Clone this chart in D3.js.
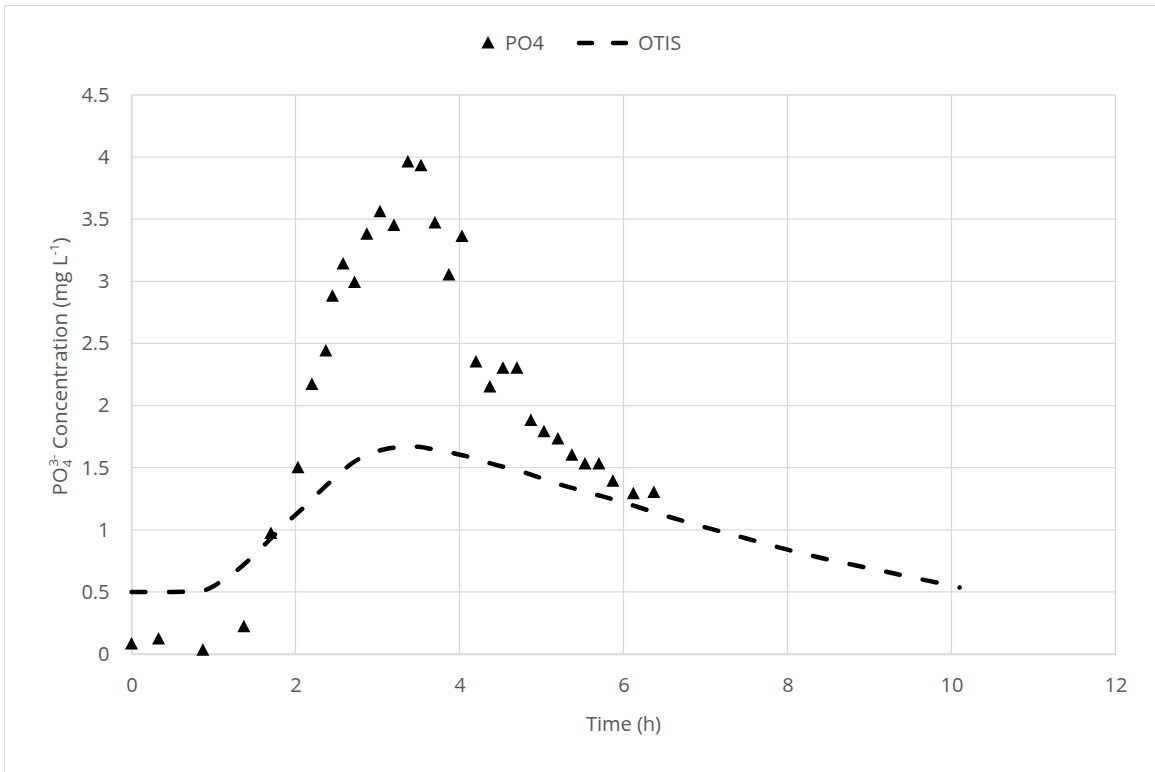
<!DOCTYPE html>
<html>
<head>
<meta charset="utf-8">
<script src="https://cdn.jsdelivr.net/npm/d3@7"></script>
<style>
  html, body { margin: 0; padding: 0; background: #fff; }
  svg { display: block; }
  text { font-family: "Open Sans", "Noto Sans", sans-serif; fill: #595959; }
</style>
</head>
<body>
<svg id="chart" width="1155" height="772"></svg>
<script>
// Measured phosphate concentration (mg/L) against time (h)
const po4Time = [0, 0.33, 0.87, 1.37, 1.70, 2.03, 2.20, 2.37, 2.45, 2.58, 2.72, 2.87, 3.03, 3.20, 3.37, 3.53, 3.70, 3.87, 4.03, 4.20, 4.37, 4.53, 4.70, 4.87, 5.03, 5.20, 5.37, 5.53, 5.70, 5.87, 6.12, 6.37];
const po4Conc = [0.08, 0.12, 0.03, 0.22, 0.97, 1.50, 2.17, 2.44, 2.88, 3.14, 2.99, 3.38, 3.56, 3.45, 3.96, 3.93, 3.47, 3.05, 3.36, 2.35, 2.15, 2.30, 2.30, 1.88, 1.79, 1.73, 1.60, 1.53, 1.53, 1.39, 1.29, 1.30];

// OTIS model simulation
const otisTime = [0, 0.5, 0.8, 0.9, 1.0, 1.1, 1.3, 1.5, 1.7, 1.9, 2.1, 2.3, 2.5, 2.7, 2.9, 3.1, 3.3, 3.5, 3.7, 3.9, 4.1, 4.4, 4.8, 5.2, 5.6, 6.0, 6.5, 7.0, 7.5, 8.0, 8.5, 9.0, 9.5, 10.1];
const otisConc = [0.5, 0.5, 0.505, 0.515, 0.545, 0.59, 0.68, 0.80, 0.93, 1.06, 1.18, 1.31, 1.43, 1.54, 1.61, 1.65, 1.667, 1.668, 1.645, 1.62, 1.59, 1.53, 1.46, 1.37, 1.295, 1.22, 1.115, 1.02, 0.93, 0.84, 0.76, 0.69, 0.62, 0.535];

const xTicks = [0, 2, 4, 6, 8, 10, 12];
const yTicks = [0, 0.5, 1, 1.5, 2, 2.5, 3, 3.5, 4, 4.5];
const seriesNames = ["PO4", "OTIS"];

const svg = d3.select("#chart");
const W = 1155, H = 772;
const plot = { left: 131.5, right: 1115.5, top: 95, bottom: 654 };

// outer chart frame
svg.append("rect")
  .attr("x", 4.5).attr("y", 5.5).attr("width", W + 20).attr("height", H + 20)
  .attr("fill", "#fff").attr("stroke", "#d9d9d9").attr("stroke-width", 1.2);

const x = d3.scaleLinear().domain([0, 12]).range([plot.left, plot.right]);
const y = d3.scaleLinear().domain([0, 4.5]).range([plot.bottom, plot.top]);

// gridlines
const grid = svg.append("g").attr("stroke", "#d9d9d9").attr("stroke-width", 1.3);
grid.selectAll("line.v").data(xTicks).join("line")
  .attr("x1", d => x(d)).attr("x2", d => x(d))
  .attr("y1", plot.top).attr("y2", plot.bottom);
grid.selectAll("line.h").data(yTicks).join("line")
  .attr("x1", plot.left).attr("x2", plot.right)
  .attr("y1", d => y(d)).attr("y2", d => y(d));

// axes (labels only; lines come from the grid)
const xAxis = svg.append("g")
  .attr("transform", `translate(0,${plot.bottom})`)
  .call(d3.axisBottom(x).tickValues(xTicks).tickSize(0).tickPadding(24).tickFormat(d3.format("d")));
xAxis.select(".domain").attr("stroke", "#d9d9d9").attr("stroke-width", 1.3);
xAxis.selectAll("text").attr("font-size", 20).attr("fill", "#595959")
  .style("font-family", "'Open Sans', sans-serif");

const yAxis = svg.append("g")
  .attr("transform", `translate(${plot.left},0)`)
  .call(d3.axisLeft(y).tickValues(yTicks).tickSize(0).tickPadding(22).tickFormat(d => String(d)));
yAxis.select(".domain").attr("stroke", "#d9d9d9").attr("stroke-width", 1.3);
yAxis.selectAll("text").attr("font-size", 20).attr("fill", "#595959")
  .style("font-family", "'Open Sans', sans-serif");

// axis titles
svg.append("text")
  .attr("x", (plot.left + plot.right) / 2).attr("y", 731)
  .attr("text-anchor", "middle").attr("font-size", 20)
  .text("Time (h)");

const yTitle = svg.append("text")
  .attr("transform", `translate(67,${(plot.top + plot.bottom) / 2 - 8}) rotate(-90)`)
  .attr("text-anchor", "middle").attr("font-size", 20.5);
yTitle.append("tspan").text("PO");
yTitle.append("tspan").attr("font-size", 13.5).attr("dy", 5).text("4");
yTitle.append("tspan").attr("font-size", 13.5).attr("dy", -14).attr("dx", -7).text("3-");
yTitle.append("tspan").attr("dy", 9).text(" Concentration (mg L");
yTitle.append("tspan").attr("font-size", 13.5).attr("dy", -8).text("-1");
yTitle.append("tspan").attr("dy", 8).text(")");

// OTIS dashed line; the dash period is fitted so the line ends on a dot
const line = d3.line()
  .x((d, i) => x(otisTime[i]))
  .y(d => y(d))
  .curve(d3.curveCatmullRom.alpha(0.5));
const otisPath = svg.append("path")
  .attr("d", line(otisConc))
  .attr("fill", "none").attr("stroke", "#000").attr("stroke-width", 4.5)
  .attr("stroke-linecap", "round");
const len = otisPath.node().getTotalLength();
const n = Math.round((len - 0.5) / 37);
const period = (len - 0.5) / n;
otisPath.attr("stroke-dasharray", `14 ${period - 14}`);

// triangle markers
const tri = "M0,-7 L6.5,5.5 L-6.5,5.5 Z";
svg.append("g").selectAll("path").data(po4Conc).join("path")
  .attr("transform", (d, i) => `translate(${x(po4Time[i])},${y(d)})`)
  .attr("d", tri).attr("fill", "#000");

// legend
const lg = svg.append("g");
lg.append("path").attr("d", tri).attr("transform", "translate(488,43)").attr("fill", "#000");
lg.append("text").attr("x", 505).attr("y", 50).attr("font-size", 20).text(seriesNames[0]);
lg.append("line").attr("x1", 579).attr("x2", 626).attr("y1", 43).attr("y2", 43)
  .attr("stroke", "#000").attr("stroke-width", 4.5).attr("stroke-linecap", "round")
  .attr("stroke-dasharray", "13 21");
lg.append("text").attr("x", 638).attr("y", 50).attr("font-size", 20).text(seriesNames[1]);
</script>
</body>
</html>
